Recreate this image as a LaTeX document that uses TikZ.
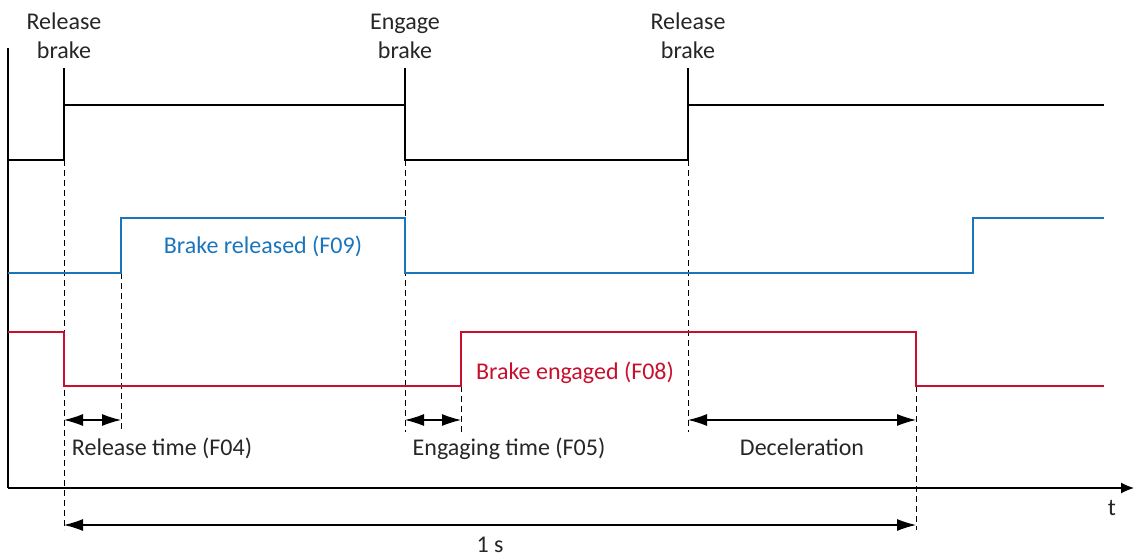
\documentclass[tikz,border=0pt]{standalone}
\usepackage{fontspec}
\setmainfont{Carlito}
\usetikzlibrary{arrows.meta}
\definecolor{brkblue}{RGB}{27,117,187}
\definecolor{brkred}{RGB}{200,16,46}
\definecolor{brktext}{RGB}{38,38,38}

\begin{document}
\begin{tikzpicture}[x=1pt,y=-1pt,font=\fontsize{24}{28}\selectfont,
  sig/.style={line width=2.4pt, line join=miter},
  guide/.style={dash pattern=on 6pt off 4pt, line width=0.9pt},
  dimarrow/.style={{Latex[length=19pt,width=12pt]}-{Latex[length=19pt,width=12pt]}, line width=1.1pt},
  lbl/.style={anchor=base, inner sep=0pt, text=brktext}]
\useasboundingbox (0,0) rectangle (1134,556);

% axes
\coordinate (org) at (8,488);
\coordinate (ytop) at (8,48);
\coordinate (tend) at (1134,488);
\draw[line width=1.2pt] (ytop) -- (org);
\draw[line width=1.2pt, -{Latex[length=13pt,width=11pt]}] (org) -- (tend);
\node[lbl] (tlbl) at (1112,515) {t};

% guide lines
\draw[guide] (64,160) -- (64,530);
\draw[guide] (121,273) -- (121,432);
\draw[guide] (405,160) -- (405,432);
\draw[guide] (461,386) -- (461,432);
\draw[guide] (688,160) -- (688,432);
\draw[guide] (916,386) -- (916,530);

% brake command
\draw[line width=1.2pt] (64,68) -- (64,105);
\draw[line width=1.2pt] (405,68) -- (405,105);
\draw[line width=1.2pt] (688,68) -- (688,105);
\draw[sig] (8,160) -- (64,160) -- (64,105) -- (405,105) -- (405,160) -- (688,160) -- (688,105) -- (1104,105);
\node[lbl] (rel1a) at (64,30) {Release};
\node[lbl] (rel1b) at (64,59) {brake};
\node[lbl] (enga) at (405,30) {Engage};
\node[lbl] (engb) at (405,59) {brake};
\node[lbl] (rel2a) at (688,30) {Release};
\node[lbl] (rel2b) at (688,59) {brake};

% brake released (F09)
\draw[sig, brkblue] (8,273) -- (121,273) -- (121,218) -- (405,218) -- (405,273) -- (973,273) -- (973,218) -- (1104,218);
\node[lbl, text=brkblue] (f09) at (263,253) {Brake released (F09)};

% brake engaged (F08)
\draw[sig, brkred] (8,332) -- (64,332) -- (64,386) -- (461,386) -- (461,332) -- (916,332) -- (916,386) -- (1104,386);
\node[lbl, text=brkred] (f08) at (575,379) {Brake engaged (F08)};

% times
\coordinate (relS) at (64,420);
\coordinate (relE) at (121,420);
\coordinate (engS) at (405,420);
\coordinate (engE) at (461,420);
\coordinate (decS) at (688,420);
\coordinate (decE) at (916,420);
\coordinate (secS) at (64,525);
\coordinate (secE) at (916,525);
\draw[dimarrow] (relS) -- (relE);
\draw[dimarrow] (engS) -- (engE);
\draw[dimarrow] (decS) -- (decE);
\draw[dimarrow] (secS) -- (secE);
\node[lbl] (f04) at (162,455) {Release time (F04)};
\node[lbl] (f05) at (509,455) {Engaging time (F05)};
\node[lbl] (decel) at (802,455) {Deceleration};
\node[lbl] (onesec) at (490,552) {1 s};
\end{tikzpicture}
\end{document}
